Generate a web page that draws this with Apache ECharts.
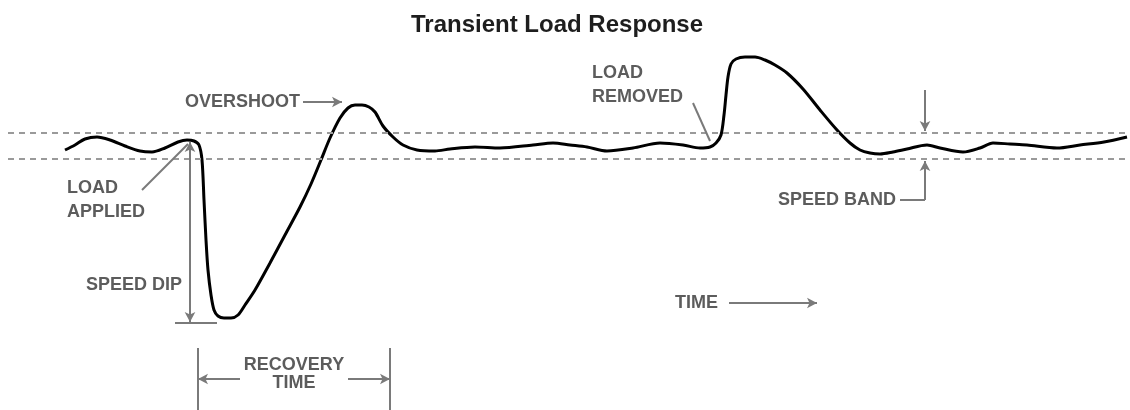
<!DOCTYPE html>
<html>
<head>
<meta charset="utf-8">
<title>Transient Load Response</title>
<script src="https://cdn.jsdelivr.net/npm/echarts@6/dist/echarts.min.js"></script>
<style>
  html, body { margin: 0; padding: 0; background: #fff; }
  #main { width: 1130px; height: 410px; }
</style>
</head>
<body>
<div id="main"></div>
<script>
var chartTitle = 'Transient Load Response';

// time (arbitrary units) and speed deviation from rated
var time = [6.5, 7.5, 8.5, 9.7, 11.0, 12.5, 14.0, 15.2, 16.5, 17.8, 18.7, 19.4, 19.9,
  20.2, 20.4, 20.6, 20.8, 21.1, 21.4, 21.8, 22.4, 23.1, 23.8, 24.5, 25.5, 27.0,
  28.5, 30.0, 31.1, 32.1, 33.0, 34.0, 34.8, 35.5, 36.2, 36.9, 37.5, 38.3, 39.3,
  40.3, 41.7, 43.5, 45.0, 47.5, 50.0, 53.3, 55.3, 57.0, 58.7, 60.7, 63.3, 66.0,
  68.3, 70.0, 71.0, 71.6, 72.1, 72.4, 72.6, 72.8, 73.1, 73.6, 74.5, 75.5, 76.5,
  77.5, 78.7, 80.3, 82.0, 83.7, 85.0, 86.0, 87.0, 88.0, 89.3, 90.7, 92.7, 94.0,
  96.3, 98.0, 99.3, 101.0, 102.7, 105.7, 108.0, 110.4, 112.7];
var speed = [-0.4, 0.1, 0.7, 0.9, 0.6, 0.0, -0.5, -0.6, -0.2, 0.4, 0.6, 0.5, 0.1,
  -1.4, -5.4, -9.4, -12.4, -14.9, -16.4, -17.0, -17.2, -17.2, -16.9, -15.9, -14.4, -11.7,
  -8.9, -6.1, -3.8, -1.4, 0.8, 2.8, 3.8, 4.1, 4.1, 3.9, 3.4, 2.0, 0.9,
  0.1, -0.4, -0.5, -0.3, -0.1, -0.2, 0.1, 0.3, 0.1, -0.1, -0.5, -0.2, 0.3,
  0.1, -0.2, -0.1, 0.3, 1.1, 3.1, 5.1, 6.9, 8.2, 8.7, 8.9, 8.9, 8.6,
  8.1, 7.3, 5.7, 3.6, 1.6, 0.3, -0.4, -0.7, -0.8, -0.6, -0.3, 0.1, -0.2,
  -0.6, -0.2, 0.3, 0.2, 0.1, -0.2, 0.1, 0.4, 0.9];

// steady-state speed band
var bandUpper = 1.3;
var bandLower = -1.3;

// callout layout (data coordinates)
var FONT = '"Liberation Sans", Arial, sans-serif';
var notes = [
  { text: 'OVERSHOOT', at: [30.0, 4.4], align: 'right' },
  { text: 'LOAD\nAPPLIED', at: [6.7, -5.4], align: 'left', lh: 24 },
  { text: 'SPEED DIP', at: [18.2, -13.9], align: 'right' },
  { text: 'RECOVERY\nTIME', at: [29.4, -22.8], align: 'center', lh: 18 },
  { text: 'LOAD\nREMOVED', at: [59.2, 6.1], align: 'left', lh: 24 },
  { text: 'SPEED BAND', at: [89.6, -5.4], align: 'right' },
  { text: 'TIME', at: [67.5, -15.7], align: 'left' }
];
var guides = [
  { from: [30.3, 4.4], to: [34.2, 4.4], arrow: 'end' },
  { from: [14.2, -4.4], to: [18.8, 0.2], arrow: 'none' },
  { from: [19.0, 0.4], to: [19.0, -17.6], arrow: 'both' },
  { from: [17.5, -17.7], to: [21.7, -17.7], arrow: 'none' },
  { from: [19.8, -20.2], to: [19.8, -26.4], arrow: 'none' },
  { from: [39.0, -20.2], to: [39.0, -26.4], arrow: 'none' },
  { from: [24.0, -23.3], to: [19.8, -23.3], arrow: 'end' },
  { from: [34.8, -23.3], to: [39.0, -23.3], arrow: 'end' },
  { from: [69.3, 4.3], to: [71.0, 0.5], arrow: 'none' },
  { from: [92.5, 5.6], to: [92.5, 1.5], arrow: 'end' },
  { from: [92.5, -5.4], to: [92.5, -1.5], arrow: 'end' },
  { from: [90.0, -5.4], to: [92.5, -5.4], arrow: 'none' },
  { from: [72.9, -15.7], to: [81.7, -15.7], arrow: 'end' }
];

var trace = time.map(function (t, i) { return [t, speed[i]]; });

var guideStyle = { color: '#7a7a7a', width: 2, type: 'solid' };
var bandStyle = { color: '#9a9a9a', width: 2, type: [6, 5] };

var markLines = [
  [{ coord: [0.8, bandUpper], symbol: 'none', lineStyle: bandStyle }, { coord: [113, bandUpper], symbol: 'none' }],
  [{ coord: [0.8, bandLower], symbol: 'none', lineStyle: bandStyle }, { coord: [113, bandLower], symbol: 'none' }]
].concat(guides.map(function (g) {
  var s = (g.arrow === 'both') ? 'arrow' : 'none';
  var e = (g.arrow === 'end' || g.arrow === 'both') ? 'arrow' : 'none';
  return [
    { coord: g.from, symbol: s, lineStyle: guideStyle },
    { coord: g.to, symbol: e }
  ];
}));

var chart = echarts.init(document.getElementById('main'));
chart.setOption({
  animation: false,
  backgroundColor: '#fff',
  title: {
    text: chartTitle,
    left: 406,
    top: 8,
    textStyle: { fontFamily: FONT, fontSize: 24, fontWeight: 'bold', color: '#1e1e1e' }
  },
  grid: { left: 0, right: 0, top: 0, bottom: 0 },
  xAxis: { type: 'value', min: 0, max: 113, show: false },
  yAxis: { type: 'value', min: -26.4, max: 14.6, show: false },
  series: [
    {
      type: 'line',
      data: trace,
      showSymbol: false,
      smooth: 0.3,
      silent: true,
      lineStyle: { color: '#000', width: 3 },
      z: 3,
      markLine: {
        silent: true,
        symbolSize: [8, 10],
        label: { show: false },
        lineStyle: guideStyle,
        data: markLines
      }
    },
    {
      type: 'scatter',
      silent: true,
      symbolSize: 1,
      itemStyle: { color: 'rgba(0,0,0,0)' },
      label: {
        show: true,
        position: 'inside',
        verticalAlign: 'middle',
        color: '#333',
        fontFamily: FONT,
        fontSize: 18,
        fontWeight: 'bold'
      },
      data: notes.map(function (n) {
        return {
          value: n.at,
          label: { formatter: n.text, align: n.align, lineHeight: n.lh || 22 }
        };
      })
    }
  ]
});
</script>
</body>
</html>
